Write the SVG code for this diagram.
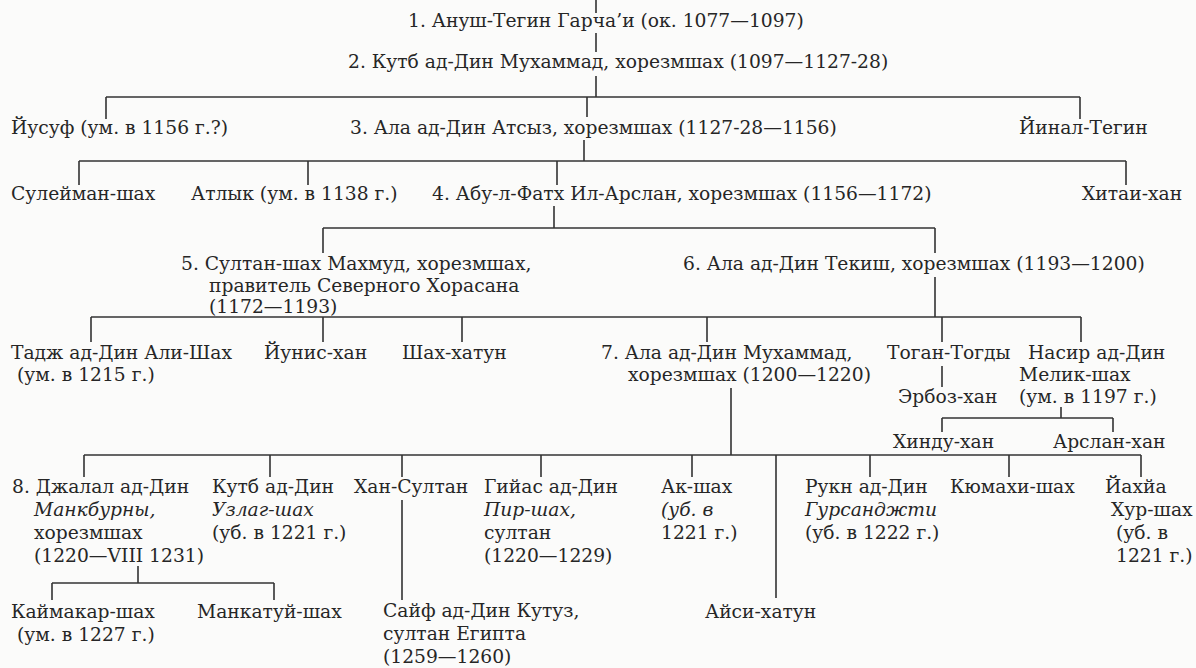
<svg xmlns="http://www.w3.org/2000/svg" width="1196" height="668" viewBox="0 0 1196 668">
<style>
text{font-family:"DejaVu Serif","Liberation Serif",serif;font-size:18.7px;fill:#262626}
.i{font-style:italic}
#connectors line{stroke:#333;stroke-width:1.6;fill:none}
</style>
<rect width="1196" height="668" fill="#fbfbfa"/>
<g id="connectors">
<line x1="596" y1="0" x2="596" y2="13"/>
<line x1="596" y1="33" x2="596" y2="52"/>
<line x1="596" y1="76" x2="596" y2="97"/>
<line x1="106" y1="97" x2="1080" y2="97"/>
<line x1="106" y1="97" x2="106" y2="119"/>
<line x1="587" y1="97" x2="587" y2="117"/>
<line x1="1080" y1="97" x2="1080" y2="119"/>
<line x1="584" y1="140" x2="584" y2="161"/>
<line x1="79" y1="161" x2="1126" y2="161"/>
<line x1="79" y1="161" x2="79" y2="185"/>
<line x1="308" y1="161" x2="308" y2="185"/>
<line x1="557" y1="161" x2="557" y2="185"/>
<line x1="1126" y1="161" x2="1126" y2="185"/>
<line x1="554" y1="206" x2="554" y2="228"/>
<line x1="323" y1="228" x2="935" y2="228"/>
<line x1="323" y1="228" x2="323" y2="253"/>
<line x1="935" y1="228" x2="935" y2="253"/>
<line x1="935" y1="277" x2="935" y2="317"/>
<line x1="91" y1="317" x2="1081" y2="317"/>
<line x1="91" y1="317" x2="91" y2="342"/>
<line x1="323" y1="317" x2="323" y2="342"/>
<line x1="462" y1="317" x2="462" y2="342"/>
<line x1="707" y1="317" x2="707" y2="342"/>
<line x1="942" y1="317" x2="942" y2="342"/>
<line x1="1081" y1="317" x2="1081" y2="342"/>
<line x1="942" y1="366" x2="942" y2="387"/>
<line x1="1061" y1="407" x2="1061" y2="418"/>
<line x1="942" y1="418" x2="1113" y2="418"/>
<line x1="942" y1="418" x2="942" y2="432"/>
<line x1="1113" y1="418" x2="1113" y2="432"/>
<line x1="731" y1="388" x2="731" y2="455"/>
<line x1="84" y1="455" x2="1141" y2="455"/>
<line x1="84" y1="455" x2="84" y2="477"/>
<line x1="270" y1="455" x2="270" y2="477"/>
<line x1="402" y1="455" x2="402" y2="477"/>
<line x1="541" y1="455" x2="541" y2="477"/>
<line x1="692" y1="455" x2="692" y2="477"/>
<line x1="776" y1="455" x2="776" y2="598"/>
<line x1="870" y1="455" x2="870" y2="477"/>
<line x1="1009" y1="455" x2="1009" y2="477"/>
<line x1="1141" y1="455" x2="1141" y2="477"/>
<line x1="402" y1="500" x2="402" y2="600"/>
<line x1="138" y1="566" x2="138" y2="583"/>
<line x1="52" y1="583" x2="274" y2="583"/>
<line x1="52" y1="583" x2="52" y2="600"/>
<line x1="274" y1="583" x2="274" y2="600"/>
</g>
<g id="n1"><text x="408" y="27">1. Ануш-Тегин Гарча’и (ок. 1077—1097)</text></g>
<g id="n2"><text x="348" y="68">2. Кутб ад-Дин Мухаммад, хорезмшах (1097—1127-28)</text></g>
<g id="yusuf"><text x="11" y="134">Йусуф (ум. в 1156 г.?)</text></g>
<g id="n3"><text x="350" y="134">3. Ала ад-Дин Атсыз, хорезмшах (1127-28—1156)</text></g>
<g id="yinal"><text x="1019" y="134">Йинал-Тегин</text></g>
<g id="suleiman"><text x="11" y="200">Сулейман-шах</text></g>
<g id="atlyk"><text x="191" y="200">Атлык (ум. в 1138 г.)</text></g>
<g id="n4"><text x="432" y="200">4. Абу-л-Фатх Ил-Арслан, хорезмшах (1156—1172)</text></g>
<g id="khitai"><text x="1082" y="200">Хитаи-хан</text></g>
<g id="n5"><text x="181" y="270">5. Султан-шах Махмуд, хорезмшах,</text><text x="209" y="292">правитель Северного Хорасана</text><text x="209" y="313">(1172—1193)</text></g>
<g id="n6"><text x="683" y="270">6. Ала ад-Дин Текиш, хорезмшах (1193—1200)</text></g>
<g id="tadj"><text x="11" y="359">Тадж ад-Дин Али-Шах</text><text x="17" y="381">(ум. в 1215 г.)</text></g>
<g id="yunis"><text x="264" y="359">Йунис-хан</text></g>
<g id="shahkhatun"><text x="402" y="359">Шах-хатун</text></g>
<g id="n7"><text x="601" y="359">7. Ала ад-Дин Мухаммад,</text><text x="628" y="381">хорезмшах (1200—1220)</text></g>
<g id="togan"><text x="887" y="359">Тоган-Тогды</text></g>
<g id="nasir"><text x="1028" y="359">Насир ад-Дин</text><text x="1019" y="381">Мелик-шах</text><text x="1019" y="403">(ум. в 1197 г.)</text></g>
<g id="erboz"><text x="898" y="403">Эрбоз-хан</text></g>
<g id="hindu"><text x="893" y="448">Хинду-хан</text></g>
<g id="arslan"><text x="1053" y="448">Арслан-хан</text></g>
<g id="n8"><text x="12" y="493">8. Джалал ад-Дин</text><text x="34" y="516" class="i">Манкбурны,</text><text x="34" y="539">хорезмшах</text><text x="34" y="562">(1220—VIII 1231)</text></g>
<g id="kutb"><text x="212" y="493">Кутб ад-Дин</text><text x="212" y="516" class="i">Узлаг-шах</text><text x="212" y="539">(уб. в 1221 г.)</text></g>
<g id="khansultan"><text x="354" y="493">Хан-Султан</text></g>
<g id="giyas"><text x="484" y="493">Гийас ад-Дин</text><text x="484" y="516" class="i">Пир-шах,</text><text x="484" y="539">султан</text><text x="484" y="562">(1220—1229)</text></g>
<g id="akshah"><text x="661" y="493">Ак-шах</text><text x="661" y="516" class="i">(уб. в</text><text x="661" y="539">1221 г.)</text></g>
<g id="rukn"><text x="805" y="493">Рукн ад-Дин</text><text x="805" y="516" class="i">Гурсанджти</text><text x="805" y="539">(уб. в 1222 г.)</text></g>
<g id="kyumakhi"><text x="950" y="493">Кюмахи-шах</text></g>
<g id="yahya"><text x="1105" y="493">Йахйа</text><text x="1111" y="516">Хур-шах</text><text x="1116" y="539">(уб. в</text><text x="1116" y="562">1221 г.)</text></g>
<g id="kaimakar"><text x="11" y="618">Каймакар-шах</text><text x="17" y="641">(ум. в 1227 г.)</text></g>
<g id="mankatui"><text x="197" y="618">Манкатуй-шах</text></g>
<g id="saif"><text x="383" y="617">Сайф ад-Дин Кутуз,</text><text x="383" y="640">султан Египта</text><text x="383" y="663">(1259—1260)</text></g>
<g id="aisi"><text x="705" y="618">Айси-хатун</text></g>
</svg>
